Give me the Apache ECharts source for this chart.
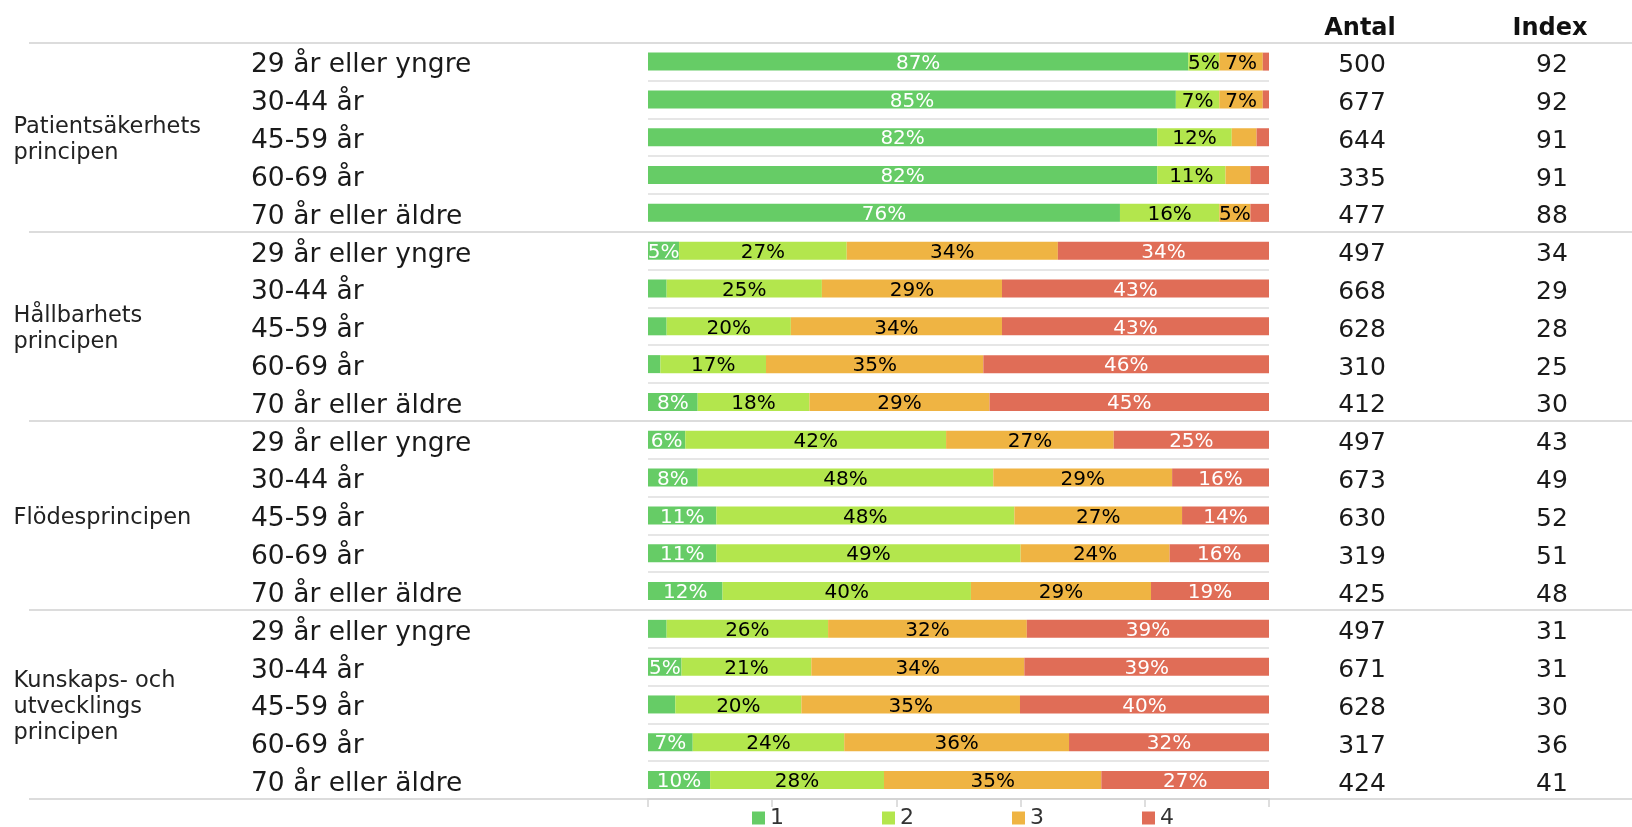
<!DOCTYPE html>
<html>
<head>
<meta charset="utf-8">
<script src="https://cdn.jsdelivr.net/npm/echarts@6/dist/echarts.min.js"></script>
<style>
html,body{margin:0;padding:0;background:#fff}
#chart{width:1632px;height:827px}
</style>
</head>
<body>
<div id="chart"></div>
<script>
var groups = ['Patientsäkerhets\nprincipen', 'Hållbarhets\nprincipen', 'Flödesprincipen', 'Kunskaps- och\nutvecklings\nprincipen'];
var ages = ['29 år eller yngre', '30-44 år', '45-59 år', '60-69 år', '70 år eller äldre'];

// andel per svar 1-4, rad för rad (grupp för grupp), avlästa från staplarna
var s1 = [87, 85, 82, 82, 76,   5, 3, 3, 2, 8,   6, 8, 11, 11, 12,   3, 5.4, 4.4, 7.2, 10];
var s2 = [5, 7, 12, 11, 16,   27, 25, 20, 17, 18,   42, 47.6, 48, 49, 40,   26, 20.9, 20.3, 24.4, 28];
var s3 = [7, 7, 4, 4, 5,   34, 29, 34, 35, 29,   27, 28.8, 27, 24, 29,   32, 34.3, 35.2, 36.2, 35];
var s4 = [1, 1, 2, 3, 3,   34, 43, 43, 46, 45,   25, 15.6, 14, 16, 19,   39, 39.4, 40.1, 32.2, 27];

var antal = [500, 677, 644, 335, 477, 497, 668, 628, 310, 412, 497, 673, 630, 319, 425, 497, 671, 628, 317, 424];
var index = [92, 92, 91, 91, 88, 34, 29, 28, 25, 30, 43, 49, 52, 51, 48, 31, 31, 30, 36, 41];

var colors = ['#66cc66', '#b3e64d', '#efb443', '#e06d57'];
var labelColors = ['#ffffff', '#000000', '#000000', '#ffffff'];
var font = '"DejaVu Sans", sans-serif';

var rows = [];
groups.forEach(function () {
    ages.forEach(function (a) { rows.push(a); });
});

var chart = echarts.init(document.getElementById('chart'));

var gridTop = 42.7, gridBottom = 28;
var textShift = 4; // texten i raderna sitter lite lägre än staplarnas mitt

function barSeries(name, data, i) {
    return {
        name: name,
        type: 'bar',
        stack: 'total',
        barWidth: 18,
        xAxisIndex: 0,
        yAxisIndex: 0,
        itemStyle: { color: colors[i] },
        label: {
            show: true,
            position: 'inside',
            offset: [0, 2],
            color: labelColors[i],
            fontFamily: font,
            fontSize: 20,
            formatter: function (p) { return p.value >= 5 ? Math.round(p.value) + '%' : ''; }
        },
        data: data
    };
}

function rowAxis(margin, align, size, fmt) {
    return {
        gridIndex: 2, type: 'category', inverse: true, data: rows,
        position: align === 'left' ? 'left' : 'right',
        axisLine: { show: false }, axisTick: { show: false }, splitLine: { show: false },
        axisLabel: {
            interval: 0, align: align, margin: margin,
            fontFamily: font, fontSize: size, color: '#1a1a1a',
            formatter: fmt
        }
    };
}

var option = {
    animation: false,
    backgroundColor: '#fff',
    title: [
        { text: 'Antal', left: 1355, top: 12, textAlign: 'center',
          textStyle: { fontFamily: font, fontSize: 24, fontWeight: 'bold', color: '#111' } },
        { text: 'Index', left: 1545, top: 12, textAlign: 'center',
          textStyle: { fontFamily: font, fontSize: 24, fontWeight: 'bold', color: '#111' } }
    ],
    legend: {
        data: ['1', '2', '3', '4'],
        left: 747,
        top: 802,
        icon: 'rect',
        itemWidth: 13,
        itemHeight: 13,
        itemGap: 98,
        textStyle: { fontFamily: font, fontSize: 22, color: '#333' }
    },
    grid: [
        { left: 648, right: 363, top: gridTop, bottom: gridBottom },
        { left: 29, right: 0, top: gridTop, bottom: gridBottom },
        { left: 648, right: 363, top: gridTop + textShift, bottom: gridBottom - textShift },
        { left: 29, right: 0, top: gridTop + 3, bottom: gridBottom - 3 }
    ],
    xAxis: [
        {
            gridIndex: 0, type: 'value', min: 0, max: 100, interval: 20,
            axisLine: { show: true, lineStyle: { color: '#d4d4d4', width: 2 } },
            axisTick: { show: true, length: 8, lineStyle: { color: '#d4d4d4', width: 1.5 } },
            axisLabel: { show: false },
            splitLine: { show: false }
        },
        { gridIndex: 1, type: 'value', min: 0, max: 1, show: false },
        { gridIndex: 2, type: 'value', min: 0, max: 1, show: false },
        { gridIndex: 3, type: 'value', min: 0, max: 1, show: false }
    ],
    yAxis: [
        {
            gridIndex: 0, type: 'category', inverse: true, data: rows,
            axisLine: { show: false }, axisTick: { show: false },
            axisLabel: { show: false },
            splitLine: { show: true, interval: 0, lineStyle: { color: '#e6e6e6', width: 2 } }
        },
        {
            gridIndex: 1, type: 'category', inverse: true, data: groups,
            axisLine: { show: false }, axisTick: { show: false },
            axisLabel: { show: false },
            splitLine: { show: true, interval: 0, lineStyle: { color: '#dcdcdc', width: 2 } }
        },
        rowAxis(397, 'left', 26.5, function (v) { return v; }),
        rowAxis(93, 'center', 25, function (v, i) { return String(antal[i]); }),
        rowAxis(283, 'center', 25, function (v, i) { return String(index[i]); }),
        {
            gridIndex: 3, type: 'category', inverse: true, data: groups,
            axisLine: { show: false }, axisTick: { show: false }, splitLine: { show: false },
            axisLabel: {
                interval: 0, align: 'left', margin: 15.5,
                fontFamily: font, fontSize: 22.5, lineHeight: 26, color: '#222'
            }
        }
    ],
    series: [
        barSeries('1', s1, 0),
        barSeries('2', s2, 1),
        barSeries('3', s3, 2),
        barSeries('4', s4, 3)
    ]
};

chart.setOption(option);
</script>
</body>
</html>
